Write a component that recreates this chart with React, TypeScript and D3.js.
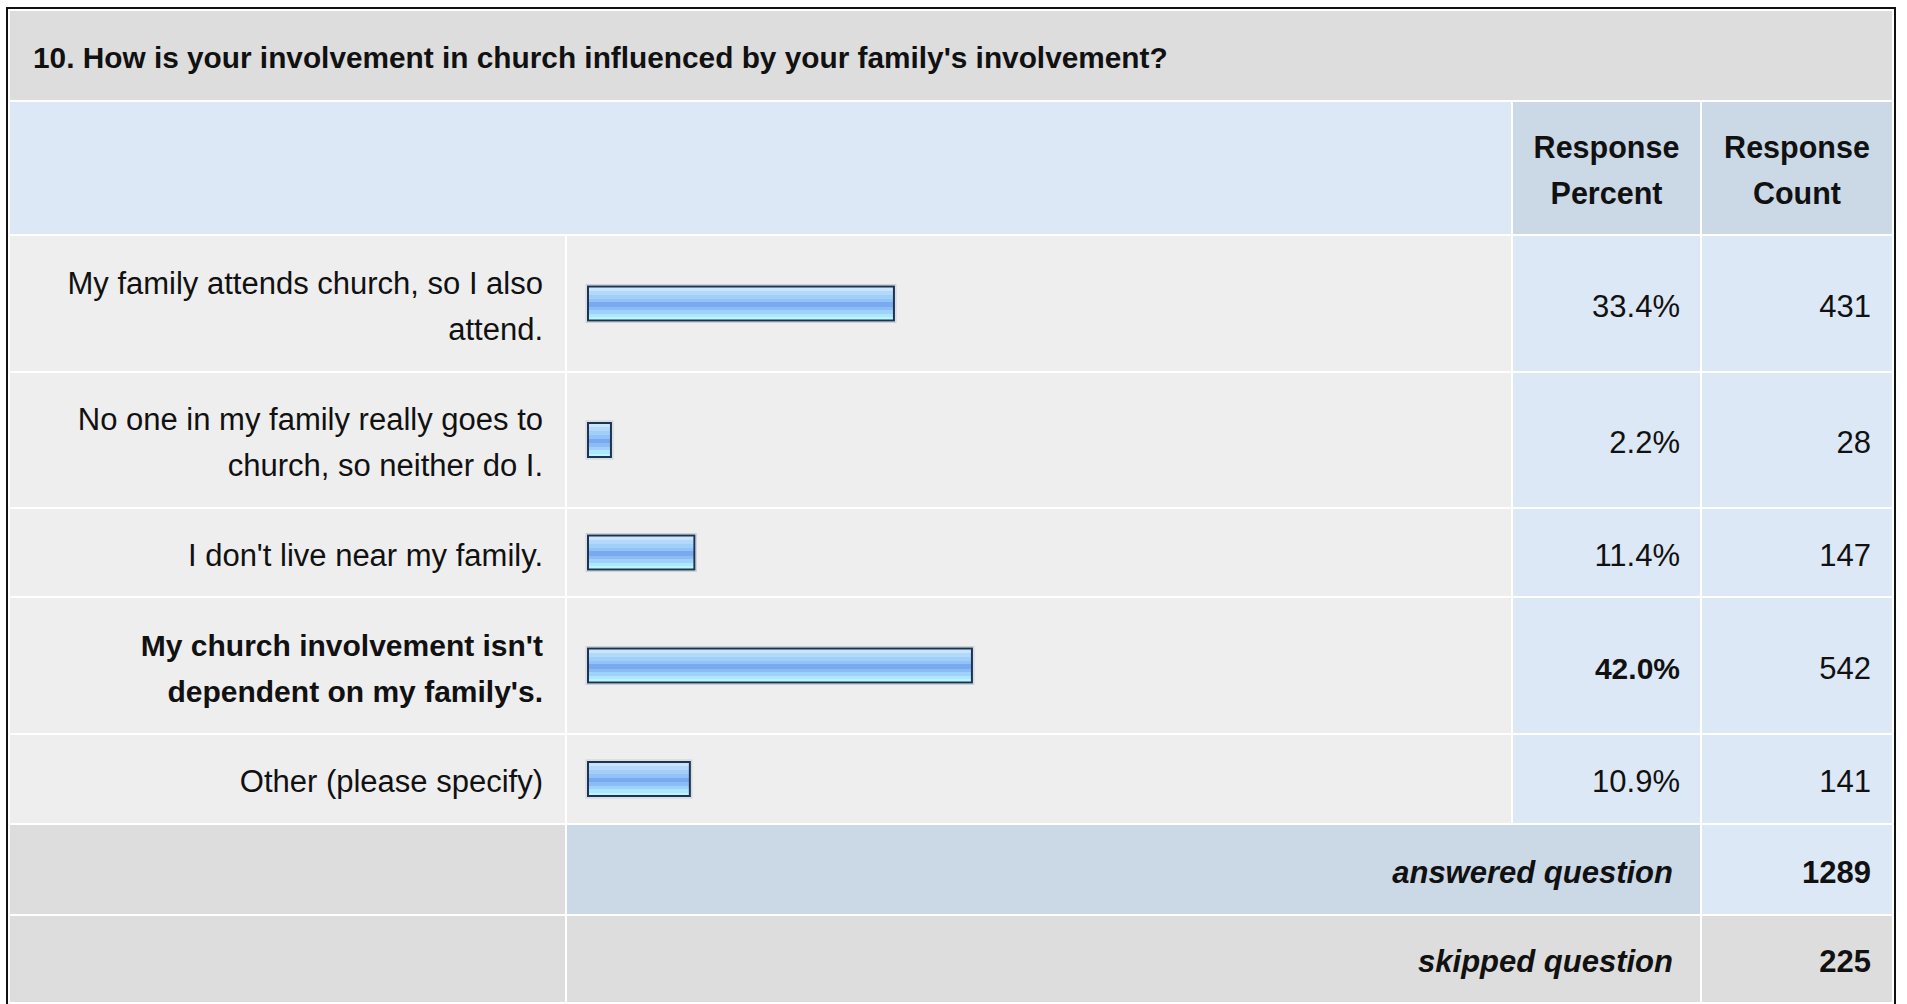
import React from "react";
import * as d3 from "d3";

const title = "10. How is your involvement in church influenced by your family's involvement?";
const headerPercent = ["Response", "Percent"];
const headerCount = ["Response", "Count"];
const answerLabels: string[][] = [
  ["My family attends church, so I also", "attend."],
  ["No one in my family really goes to", "church, so neither do I."],
  ["I don't live near my family."],
  ["My church involvement isn't", "dependent on my family's."],
  ["Other (please specify)"],
];
const percents = [33.4, 2.2, 11.4, 42.0, 10.9];
const counts = [431, 28, 147, 542, 141];
const answeredLabel = "answered question";
const answeredCount = 1289;
const skippedLabel = "skipped question";
const skippedCount = 225;

const W = 1907;
const H = 1004;
const FONT = "'Liberation Sans', Arial, Helvetica, sans-serif";
const FS = 31;
const FS_BOLD = 30;
const FS_HEAD = 30.5;
const FS_TITLE = 29.8;
const LINE = 46;
const GAP = 2;
const BASE = 13;
const ROW_H = [135, 134, 87, 135, 88];

// columns
const cL0 = 10, cL1 = 565;
const cB0 = 567, cB1 = 1511;
const cP0 = 1513, cP1 = 1700;
const cC0 = 1702, cC1 = 1892;

const C_TITLE = "#dddddd";
const C_HEAD = "#dce8f5";
const C_HEAD_DARK = "#cbd8e6";
const C_ROW = "#eeeeee";
const C_ROWBLUE = "#dce8f5";

export default function App() {
  const maxIdx = percents.indexOf(d3.max(percents) as number);
  const x = d3.scaleLinear().domain([0, 100]).range([0, 907]);

  const titleTop = 11, titleBot = 100;
  const headTop = titleBot + GAP, headBot = 234;
  let y = headBot + GAP;
  const rows = answerLabels.map((lines, i) => {
    const h = ROW_H[i];
    const r = { top: y, h, lines, i };
    y += h + GAP;
    return r;
  });
  const ansTop = y, ansH = 89;
  const skTop = ansTop + ansH + GAP, skH = H - 2 - (ansTop + ansH + GAP);

  const textY = (center: number, n: number, k: number) =>
    center + (k - (n - 1) / 2) * LINE + BASE;

  const stops: [number, string][] = [
    [0, "#c9e4fc"], [0.12, "#c9e4fc"], [0.12, "#b2d9fb"], [0.24, "#b2d9fb"],
    [0.24, "#a2cefa"], [0.36, "#a2cefa"], [0.36, "#92c3f8"], [0.47, "#92c3f8"],
    [0.47, "#79aaf0"], [0.6, "#79aaf0"], [0.6, "#8bbcf5"], [0.7, "#8bbcf5"],
    [0.7, "#9fd2fb"], [0.8, "#9fd2fb"], [0.8, "#aee6fd"], [0.9, "#aee6fd"],
    [0.9, "#b8f7ff"], [1, "#b8f7ff"],
  ];

  return (
    <svg
      width={W}
      height={H}
      style={{ position: "absolute", left: 0, top: 0, display: "block", background: "#fff" }}
      fontFamily={FONT}
    >
      <defs>
        <linearGradient id="barGrad" x1="0" y1="0" x2="0" y2="1">
          {stops.map((s, i) => (
            <stop key={i} offset={s[0]} stopColor={s[1]} />
          ))}
        </linearGradient>
      </defs>
      <rect x={0} y={0} width={W} height={H} fill="#fff" />
      {/* outer frame */}
      <rect x={7} y={8} width={1888} height={H + 20} fill="#fff" stroke="#111" strokeWidth={2} />

      {/* title */}
      <rect x={cL0} y={titleTop} width={cC1 - cL0} height={titleBot - titleTop} fill={C_TITLE} />
      <text x={33} y={(titleTop + titleBot) / 2 + 12} fontSize={FS_TITLE} fontWeight="bold" fill="#111">
        {title}
      </text>

      {/* header */}
      <rect x={cL0} y={headTop} width={cB1 - cL0} height={headBot - headTop} fill={C_HEAD} />
      <rect x={cP0} y={headTop} width={cP1 - cP0} height={headBot - headTop} fill={C_HEAD_DARK} />
      <rect x={cC0} y={headTop} width={cC1 - cC0} height={headBot - headTop} fill={C_HEAD_DARK} />
      {headerPercent.map((t, k) => (
        <text key={"hp" + k} x={(cP0 + cP1) / 2} y={textY((headTop + headBot) / 2, 2, k)}
          fontSize={FS_HEAD} fontWeight="bold" textAnchor="middle" fill="#111">{t}</text>
      ))}
      {headerCount.map((t, k) => (
        <text key={"hc" + k} x={(cC0 + cC1) / 2} y={textY((headTop + headBot) / 2, 2, k)}
          fontSize={FS_HEAD} fontWeight="bold" textAnchor="middle" fill="#111">{t}</text>
      ))}

      {/* data rows */}
      {rows.map((r) => {
        const cy = r.top + r.h / 2;
        const bold = r.i === maxIdx;
        const bw = x(percents[r.i]) + 5;
        return (
          <g key={"row" + r.i}>
            <rect x={cL0} y={r.top} width={cL1 - cL0} height={r.h} fill={C_ROW} />
            <rect x={cB0} y={r.top} width={cB1 - cB0} height={r.h} fill={C_ROW} />
            <rect x={cP0} y={r.top} width={cP1 - cP0} height={r.h} fill={C_ROWBLUE} />
            <rect x={cC0} y={r.top} width={cC1 - cC0} height={r.h} fill={C_ROWBLUE} />
            {r.lines.map((t, k) => (
              <text key={k} x={cL1 - 22} y={textY(cy, r.lines.length, k)} fontSize={bold ? FS_BOLD : FS}
                textAnchor="end" fontWeight={bold ? "bold" : "normal"} fill="#111">{t}</text>
            ))}
            <rect x={586} y={cy - 19} width={bw + 2} height={38} fill="none" stroke="#c9d1db" strokeWidth={1} />
            <rect x={588} y={cy - 17} width={bw - 2} height={34} fill="url(#barGrad)" stroke="#1e3350" strokeWidth={2} />
            <text x={cP1 - 20} y={cy + BASE} fontSize={bold ? FS_BOLD : FS} textAnchor="end"
              fontWeight={bold ? "bold" : "normal"} fill="#111">{percents[r.i].toFixed(1) + "%"}</text>
            <text x={cC1 - 21} y={cy + BASE} fontSize={FS} textAnchor="end" fill="#111">{counts[r.i]}</text>
          </g>
        );
      })}

      {/* answered */}
      <rect x={cL0} y={ansTop} width={cL1 - cL0} height={ansH} fill={C_TITLE} />
      <rect x={cB0} y={ansTop} width={cP1 - cB0} height={ansH} fill={C_HEAD_DARK} />
      <rect x={cC0} y={ansTop} width={cC1 - cC0} height={ansH} fill={C_ROWBLUE} />
      <text x={cP1 - 27} y={ansTop + ansH / 2 + BASE} fontSize={FS} fontWeight="bold" fontStyle="italic"
        textAnchor="end" fill="#111">{answeredLabel}</text>
      <text x={cC1 - 21} y={ansTop + ansH / 2 + BASE} fontSize={FS} fontWeight="bold"
        textAnchor="end" fill="#111">{answeredCount}</text>

      {/* skipped */}
      <rect x={cL0} y={skTop} width={cL1 - cL0} height={skH} fill={C_TITLE} />
      <rect x={cB0} y={skTop} width={cP1 - cB0} height={skH} fill={C_TITLE} />
      <rect x={cC0} y={skTop} width={cC1 - cC0} height={skH} fill={C_TITLE} />
      <text x={cP1 - 27} y={skTop + skH / 2 + BASE} fontSize={FS} fontWeight="bold" fontStyle="italic"
        textAnchor="end" fill="#111">{skippedLabel}</text>
      <text x={cC1 - 21} y={skTop + skH / 2 + BASE} fontSize={FS} fontWeight="bold"
        textAnchor="end" fill="#111">{skippedCount}</text>
    </svg>
  );
}
